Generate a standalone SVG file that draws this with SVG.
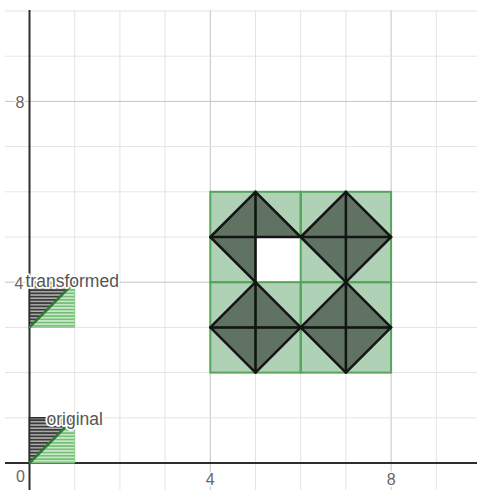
<svg xmlns="http://www.w3.org/2000/svg" width="477" height="490" viewBox="0 0 477 490">
<style>
.minor{stroke:#e4e4e4;stroke-width:1}
.major{stroke:#c4c4c4;stroke-width:1}
.axis{stroke:#2e2e2e;stroke-width:2}
.tick{font-family:"Liberation Sans",Arial,sans-serif;font-size:16px;fill:#666;stroke:#fff;stroke-width:3;paint-order:stroke;stroke-linejoin:round}
.lbl{font-family:"Liberation Sans",Arial,sans-serif;font-size:17.5px;fill:#555;stroke:#fff;stroke-width:3.5;paint-order:stroke;stroke-linejoin:round}
.cell{fill:#388c46;fill-opacity:0.4;stroke:#55a55b;stroke-width:2}
.dark{fill:#000;fill-opacity:0.45;stroke:#141414;stroke-width:2.5;stroke-linejoin:round}
.darkline{stroke:#141414;stroke-width:2.5;stroke-linecap:round}
</style>
<defs>
<pattern id="hb" patternUnits="userSpaceOnUse" width="4" height="3.25"><rect width="4" height="3.25" fill="#b5b5b5"/><rect width="4" height="1.8" fill="#3a3a3a"/></pattern>
<pattern id="hg" patternUnits="userSpaceOnUse" width="4" height="3.25"><rect width="4" height="3.25" fill="#cbe7cb"/><rect width="4" height="1.6" fill="#74bf74"/></pattern>
</defs>
<rect width="477" height="490" fill="#fff"/>
<g id="grid">
<line class="minor" x1="74.7" y1="10" x2="74.7" y2="490"/>
<line class="minor" x1="119.9" y1="10" x2="119.9" y2="490"/>
<line class="minor" x1="165.1" y1="10" x2="165.1" y2="490"/>
<line class="major" x1="210.3" y1="10" x2="210.3" y2="490"/>
<line class="minor" x1="255.5" y1="10" x2="255.5" y2="490"/>
<line class="minor" x1="300.7" y1="10" x2="300.7" y2="490"/>
<line class="minor" x1="345.9" y1="10" x2="345.9" y2="490"/>
<line class="major" x1="391.1" y1="10" x2="391.1" y2="490"/>
<line class="minor" x1="436.3" y1="10" x2="436.3" y2="490"/>
<line class="minor" x1="5" y1="417.8" x2="477" y2="417.8"/>
<line class="minor" x1="5" y1="372.6" x2="477" y2="372.6"/>
<line class="minor" x1="5" y1="327.4" x2="477" y2="327.4"/>
<line class="major" x1="5" y1="282.2" x2="477" y2="282.2"/>
<line class="minor" x1="5" y1="237" x2="477" y2="237"/>
<line class="minor" x1="5" y1="191.8" x2="477" y2="191.8"/>
<line class="minor" x1="5" y1="146.6" x2="477" y2="146.6"/>
<line class="major" x1="5" y1="101.4" x2="477" y2="101.4"/>
<line class="minor" x1="5" y1="56.2" x2="477" y2="56.2"/>
<line class="minor" x1="5" y1="11" x2="477" y2="11"/>
</g>
<g id="axes">
<line class="axis" x1="5" y1="463" x2="477" y2="463"/>
<line class="axis" x1="29.5" y1="10" x2="29.5" y2="490"/>
</g>
<g id="ticks">
<text class="tick" x="24.5" y="107.5" text-anchor="end">8</text>
<text class="tick" x="23.5" y="288.5" text-anchor="end">4</text>
<text class="tick" x="25" y="482" text-anchor="end">0</text>
<text class="tick" x="210.3" y="485" text-anchor="middle">4</text>
<text class="tick" x="391.1" y="485" text-anchor="middle">8</text>
</g>
<g id="original">
<polygon points="29.5,463 29.5,417.8 74.7,417.8" fill="url(#hb)" stroke="#2a2a2a" stroke-width="1.5"/>
<polygon points="29.5,463 74.7,463 74.7,417.8" fill="url(#hg)" stroke="#8ccc8c" stroke-width="1"/>
<line x1="29.5" y1="463" x2="74.7" y2="417.8" stroke="#2d7a33" stroke-width="2.5"/>
<text class="lbl" x="46.5" y="425">original</text>
</g>
<g id="transformed">
<polygon points="29.5,327.4 29.5,282.2 74.7,282.2" fill="url(#hb)" stroke="#2a2a2a" stroke-width="1.5"/>
<polygon points="29.5,327.4 74.7,327.4 74.7,282.2" fill="url(#hg)" stroke="#8ccc8c" stroke-width="1"/>
<line x1="29.5" y1="327.4" x2="74.7" y2="282.2" stroke="#2d7a33" stroke-width="2.5"/>
<text class="lbl" x="25.5" y="287">transformed</text>
</g>
<g id="pattern-cells">
<rect class="cell" x="210.3" y="191.8" width="45.2" height="45.2"/>
<rect class="cell" x="255.5" y="191.8" width="45.2" height="45.2"/>
<rect class="cell" x="300.7" y="191.8" width="45.2" height="45.2"/>
<rect class="cell" x="345.9" y="191.8" width="45.2" height="45.2"/>
<rect class="cell" x="210.3" y="237" width="45.2" height="45.2"/>
<rect class="cell" x="300.7" y="237" width="45.2" height="45.2"/>
<rect class="cell" x="345.9" y="237" width="45.2" height="45.2"/>
<rect class="cell" x="210.3" y="282.2" width="45.2" height="45.2"/>
<rect class="cell" x="255.5" y="282.2" width="45.2" height="45.2"/>
<rect class="cell" x="300.7" y="282.2" width="45.2" height="45.2"/>
<rect class="cell" x="345.9" y="282.2" width="45.2" height="45.2"/>
<rect class="cell" x="210.3" y="327.4" width="45.2" height="45.2"/>
<rect class="cell" x="255.5" y="327.4" width="45.2" height="45.2"/>
<rect class="cell" x="300.7" y="327.4" width="45.2" height="45.2"/>
<rect class="cell" x="345.9" y="327.4" width="45.2" height="45.2"/>
</g>
<g id="pattern-triangles">
<polygon class="dark" points="255.5,191.8 300.7,237 255.5,237 255.5,282.2 210.3,237"/>
<line class="darkline" x1="255.5" y1="191.8" x2="255.5" y2="237"/>
<line class="darkline" x1="210.3" y1="237" x2="255.5" y2="237"/>
<polygon class="dark" points="345.9,191.8 391.1,237 345.9,282.2 300.7,237"/>
<line class="darkline" x1="345.9" y1="191.8" x2="345.9" y2="282.2"/>
<line class="darkline" x1="300.7" y1="237" x2="391.1" y2="237"/>
<polygon class="dark" points="255.5,282.2 300.7,327.4 255.5,372.6 210.3,327.4"/>
<line class="darkline" x1="255.5" y1="282.2" x2="255.5" y2="372.6"/>
<line class="darkline" x1="210.3" y1="327.4" x2="300.7" y2="327.4"/>
<polygon class="dark" points="345.9,282.2 391.1,327.4 345.9,372.6 300.7,327.4"/>
<line class="darkline" x1="345.9" y1="282.2" x2="345.9" y2="372.6"/>
<line class="darkline" x1="300.7" y1="327.4" x2="391.1" y2="327.4"/>
</g>
</svg>
